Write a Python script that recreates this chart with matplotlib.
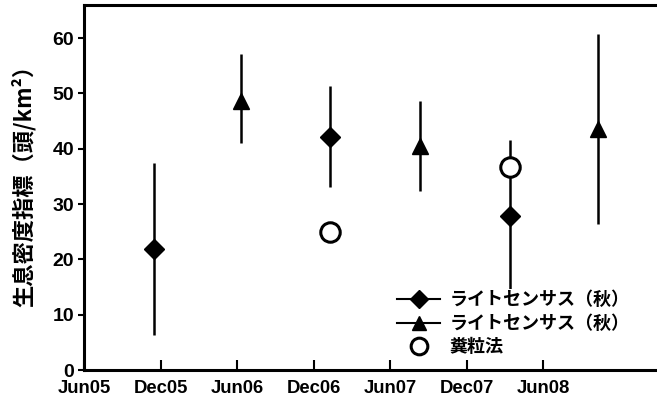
import matplotlib
matplotlib.use("Agg")
import matplotlib.pyplot as plt
from matplotlib.lines import Line2D

plt.rcParams['font.family'] = ['Liberation Sans', 'Noto Sans CJK JP', 'DejaVu Sans']

# months since Jun 2005
tick_pos = [0, 6, 12, 18, 24, 30, 36]
tick_labels = ["Jun05", "Dec05", "Jun06", "Dec06", "Jun07", "Dec07", "Jun08"]

# autumn light census (diamonds)
aut_x = [5.5, 19.3, 33.35]
aut_y = [21.9, 42.2, 27.8]
aut_lo = [6.3, 33.1, 14.0]
aut_hi = [37.4, 51.4, 41.6]

# second light census series (triangles)
spr_x = [12.3, 26.3, 40.3]
spr_y = [48.7, 40.5, 43.5]
spr_lo = [41.0, 32.4, 26.4]
spr_hi = [57.1, 48.6, 60.8]

# pellet count method (circles)
pel_x = [19.25, 33.35]
pel_y = [25.0, 36.7]

yticks = [0, 10, 20, 30, 40, 50, 60]

fig = plt.figure(figsize=(6.57, 4.04), dpi=100)
ax = fig.add_axes([0.128, 0.084, 0.872, 0.904])

def errs(y, lo, hi):
    return [[v - l for v, l in zip(y, lo)], [h - v for v, h in zip(y, hi)]]

ax.errorbar(aut_x, aut_y, yerr=errs(aut_y, aut_lo, aut_hi), fmt='D', color='black',
            markersize=10.5, elinewidth=1.8, capsize=0, zorder=3)
ax.errorbar(spr_x, spr_y, yerr=errs(spr_y, spr_lo, spr_hi), fmt='^', color='black',
            markersize=12, elinewidth=1.8, capsize=0, zorder=3)
ax.plot(pel_x, pel_y, 'o', markerfacecolor='white', markeredgecolor='black',
        markersize=14, markeredgewidth=2.2, zorder=4)

ax.set_xlim(0.2, 44.9)
ax.set_ylim(0, 66)
ax.set_xticks(tick_pos)
ax.set_xticklabels(tick_labels, fontsize=13.3, fontweight='bold')
ax.set_yticks(yticks)
ax.set_yticklabels([str(v) for v in yticks], fontsize=14, fontweight='bold')
ax.tick_params(axis='x', direction='in', length=7, width=1.5, pad=7)
ax.tick_params(axis='y', direction='out', length=4, width=1.5, pad=3)
for s in ['left', 'bottom', 'top']:
    ax.spines[s].set_linewidth(2.2)
ax.spines['right'].set_visible(False)

ax.set_ylabel("生息密度指標（頭/km²）", fontsize=16, fontweight='bold',
              family=['Noto Sans CJK JP', 'DejaVu Sans'])
ax.yaxis.set_label_coords(-0.084, 0.52)

handles = [
    Line2D([], [], color='black', marker='D', markersize=9, linewidth=1.5),
    Line2D([], [], color='black', marker='^', markersize=10, linewidth=1.5),
    Line2D([], [], color='black', marker='o', markersize=12, markerfacecolor='white',
           markeredgewidth=2.2, linewidth=0),
]
labels = ["ライトセンサス（秋）", "ライトセンサス（秋）", "糞粒法"]
leg = fig.legend(handles, labels, loc='upper left', bbox_to_anchor=(0.588, 0.308),
                 frameon=True, facecolor='white', edgecolor='none', framealpha=1,
                 handlelength=2.4, handletextpad=0.5,
                 labelspacing=0.25, borderpad=0.1,
                 prop={'family': ['Noto Sans CJK JP', 'DejaVu Sans'], 'size': 13,
                       'weight': 'bold'})

fig.savefig("out.png", dpi=100)
